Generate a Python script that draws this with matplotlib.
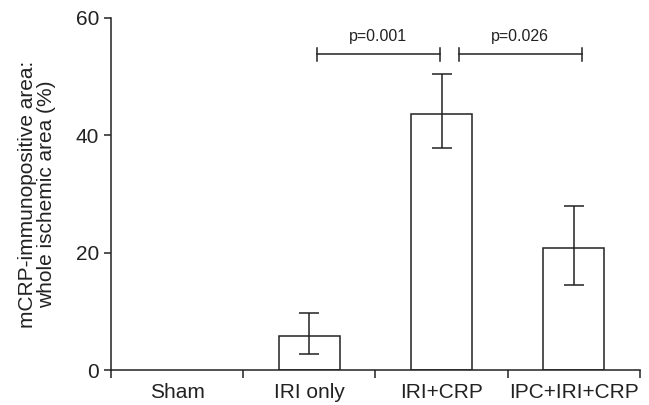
import numpy as np
import matplotlib
matplotlib.use("Agg")
import matplotlib.pyplot as plt

plt.rcParams["font.family"] = ["Liberation Sans", "DejaVu Sans"]

groups = ["Sham", "IRI only", "IRI+CRP", "IPC+IRI+CRP"]
means = [0.0, 5.8, 43.7, 20.8]
err_low = [0.0, 3.0, 5.9, 6.3]
err_high = [0.0, 3.9, 6.7, 7.1]

# significance brackets: (x start, x end, level, label)
brackets = [(1.055, 1.988, 53.8, "p=0.001"), (2.131, 3.059, 53.8, "p=0.026")]

ink = "#222222"

fig = plt.figure(figsize=(6.49, 4.05), dpi=100)
ax = fig.add_axes([0.171, 0.0864, 0.815, 0.8692])

x = np.arange(len(groups))
ax.bar(x[1:], means[1:], width=0.46, color="white", edgecolor=ink, linewidth=1.1, zorder=2)
ax.errorbar(x[1:], means[1:], yerr=[err_low[1:], err_high[1:]], fmt="none",
            ecolor=ink, elinewidth=1.1, capsize=7, capthick=1.1, zorder=3)

for x0, x1, lvl, txt in brackets:
    ax.plot([x0, x1], [lvl, lvl], color=ink, lw=1.1)
    ax.plot([x0, x0], [lvl - 1.1, lvl + 1.1], color=ink, lw=1.1)
    ax.plot([x1, x1], [lvl - 1.1, lvl + 1.1], color=ink, lw=1.1)
    ax.text((x0 + x1) / 2, lvl + 1.8, txt, ha="center", va="bottom", fontsize=11.5, color=ink)

ax.set_xlim(-0.5, 3.5)
ax.set_ylim(0, 60)
ax.set_yticks([0, 20, 40, 60])
ax.set_xticks(x)
ax.set_xticklabels(groups)
ax.set_xticks(np.arange(-0.5, 3.6, 1.0), minor=True)
ax.tick_params(axis="x", which="major", length=0, pad=9, labelsize=15, labelcolor=ink)
ax.tick_params(axis="x", which="minor", length=6, width=1.1, color=ink, direction="out")
ax.tick_params(axis="y", length=5, width=1.1, color=ink, labelsize=15, labelcolor=ink)

ax.spines["top"].set_visible(False)
ax.spines["right"].set_visible(False)
for s in ["left", "bottom"]:
    ax.spines[s].set_color(ink)
    ax.spines[s].set_linewidth(1.1)

ax.set_ylabel("mCRP-immunopositive area:\nwhole ischemic area (%)", fontsize=15,
              color=ink, labelpad=14, linespacing=1.0)

fig.savefig("out.png", dpi=100)
